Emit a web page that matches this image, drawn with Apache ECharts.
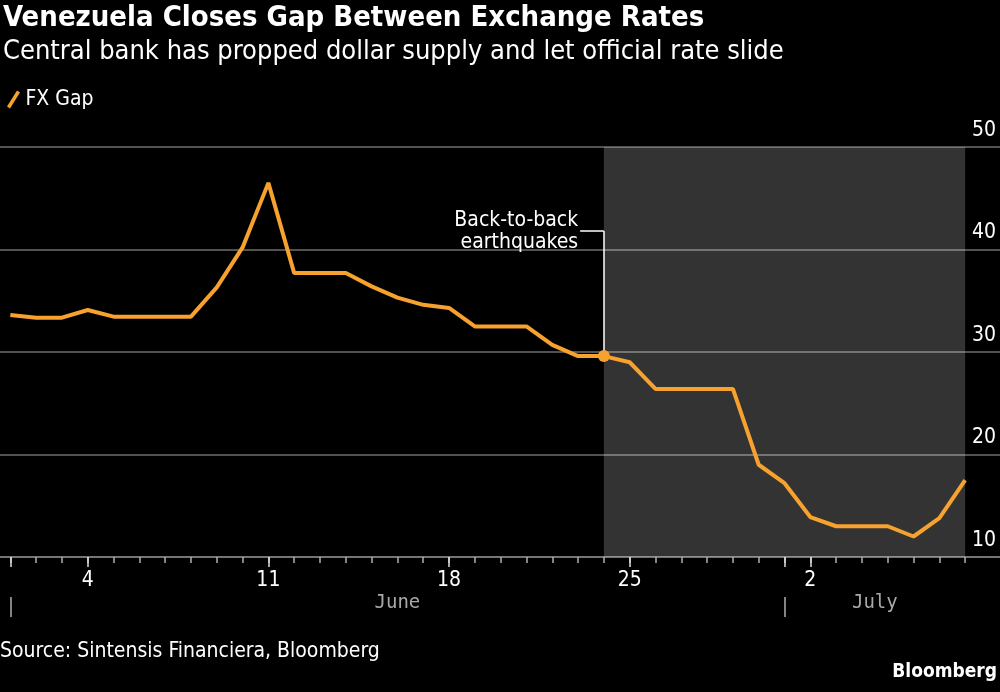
<!DOCTYPE html>
<html>
<head>
<meta charset="utf-8">
<script src="https://cdn.jsdelivr.net/npm/echarts@6/dist/echarts.min.js"></script>
<style>
  html, body { margin: 0; padding: 0; background: #000; }
  #chart { width: 1000px; height: 692px; }
</style>
</head>
<body>
<div id="chart"></div>
<script>
// daily dates shown on the x axis
const dates = [
  'Jun 1', 'Jun 2', 'Jun 3', 'Jun 4', 'Jun 5', 'Jun 6', 'Jun 7', 'Jun 8', 'Jun 9', 'Jun 10',
  'Jun 11', 'Jun 12', 'Jun 13', 'Jun 14', 'Jun 15', 'Jun 16', 'Jun 17', 'Jun 18', 'Jun 19', 'Jun 20',
  'Jun 21', 'Jun 22', 'Jun 23', 'Jun 24', 'Jun 25', 'Jun 26', 'Jun 27', 'Jun 28', 'Jun 29', 'Jun 30',
  'Jul 1', 'Jul 2', 'Jul 3', 'Jul 4', 'Jul 5', 'Jul 6', 'Jul 7', 'Jul 8'
]
// FX gap, %
const fxGap = [
  33.6, 33.35, 33.35, 34.1, 33.45, 33.45, 33.45, 33.45, 36.3, 40.2,
  46.5, 37.7, 37.7, 37.7, 36.4, 35.3, 34.6, 34.3, 32.5, 32.5,
  32.5, 30.7, 29.6, 29.6, 29.0, 26.4, 26.4, 26.4, 26.4, 19.0,
  17.2, 13.9, 13.0, 13.0, 13.0, 12.0, 13.8, 17.5
]
const labelDates = ['Jun 4', 'Jun 11', 'Jun 18', 'Jun 25', 'Jul 2']
const monthStarts = ['Jun 1', 'Jul 1']
const months = ['June', 'July']
const yTicks = [10, 20, 30, 40, 50]
const eventDate = 'Jun 24'
const eventText = 'Back-to-back\nearthquakes'

const ORANGE = '#f7a12e'
const FONT = '"DejaVu Sans Condensed", "Liberation Sans Narrow", sans-serif'

const labelIdx = labelDates.map(d => dates.indexOf(d))
const monthIdx = monthStarts.map(d => dates.indexOf(d))
const lastIdx = dates.length - 1
// month label sits in the middle of its visible span
const monthMid = monthIdx.map((s, i) => ((s + (i + 1 < monthIdx.length ? monthIdx[i + 1] : lastIdx)) / 2))
const eventIdx = dates.indexOf(eventDate)
const allIdx = dates.map((d, i) => i)

const xMin = -0.4
const xMax = 38.35

const chart = echarts.init(document.getElementById('chart'))

const option = {
  backgroundColor: '#000',
  textStyle: { fontFamily: FONT },
  animation: false,
  title: {
    text: 'Venezuela Closes Gap Between Exchange Rates',
    subtext: 'Central bank has propped dollar supply and let official rate slide',
    left: -2,
    top: -1,
    itemGap: 5,
    textStyle: { color: '#fff', fontSize: 29, fontWeight: 'bold', fontFamily: FONT },
    subtextStyle: { color: '#fff', fontSize: 27, fontFamily: FONT }
  },
  legend: {
    left: 2,
    top: 84,
    itemWidth: 14,
    itemHeight: 18,
    itemGap: 8,
    icon: 'path://M0,16 L10,0 L13,2 L3,18 Z',
    textStyle: { color: '#fff', fontSize: 21, fontFamily: FONT },
    data: ['FX Gap']
  },
  grid: { left: 0, right: 0, top: 147, bottom: 135, containLabel: false },
  xAxis: [
    {
      type: 'value',
      position: 'bottom',
      min: xMin,
      max: xMax,
      splitLine: { show: false },
      axisLine: { show: true, lineStyle: { color: '#808080', width: 1.5 } },
      axisTick: { show: true, customValues: allIdx, length: 6, lineStyle: { color: '#b0b0b0', width: 1.5 } },
      axisLabel: {
        customValues: labelIdx,
        formatter: v => dates[Math.round(v)].split(' ')[1],
        color: '#fff',
        fontSize: 21,
        margin: 13
      }
    },
    {
      type: 'value',
      position: 'bottom',
      min: xMin,
      max: xMax,
      splitLine: { show: false },
      axisLine: { show: false },
      axisTick: { show: true, customValues: labelIdx.concat(monthIdx), length: 10, lineStyle: { color: '#e0e0e0', width: 1.5 } },
      axisLabel: { show: false }
    },
    {
      type: 'value',
      position: 'bottom',
      min: xMin,
      max: xMax,
      offset: 40,
      splitLine: { show: false },
      axisLine: { show: false },
      axisTick: { show: true, customValues: monthIdx, length: 20, lineStyle: { color: '#b0b0b0', width: 1.5 } },
      axisLabel: {
        customValues: monthMid,
        formatter: v => months[monthMid.indexOf(v)],
        color: '#a8a8a8',
        fontSize: 19,
        fontFamily: '"DejaVu Sans Mono", monospace',
        margin: -3
      }
    }
  ],
  yAxis: {
    type: 'value',
    position: 'right',
    min: yTicks[0],
    max: yTicks[yTicks.length - 1],
    interval: 10,
    axisLine: { show: false },
    axisTick: { show: false },
    splitLine: { lineStyle: { color: '#6e6e6e', width: 1.5 } },
    axisLabel: {
      inside: true,
      margin: 4,
      color: '#fff',
      fontSize: 21,
      verticalAlign: 'bottom',
      padding: [0, 0, 6, 0]
    }
  },
  series: [
    {
      name: 'FX Gap',
      type: 'line',
      data: fxGap.map((v, i) => [i, v]),
      symbol: 'none',
      color: ORANGE,
      lineStyle: { color: ORANGE, width: 4 },
      markArea: {
        silent: true,
        itemStyle: { color: 'rgba(255,255,255,0.2)' },
        data: [[{ xAxis: eventIdx }, { xAxis: lastIdx }]]
      },
      markLine: {
        silent: true,
        symbol: 'none',
        lineStyle: { color: '#fff', width: 1.5, type: 'solid' },
        label: { show: false },
        data: [
          [{ coord: [eventIdx, fxGap[eventIdx]] }, { coord: [eventIdx, 41.8] }],
          [{ coord: [eventIdx, 41.8] }, { coord: [eventIdx - 0.92, 41.8] }]
        ]
      },
      markPoint: {
        silent: true,
        data: [
          {
            coord: [eventIdx, fxGap[eventIdx]],
            symbol: 'circle',
            symbolSize: 12,
            itemStyle: { color: ORANGE },
            label: { show: false }
          },
          {
            coord: [eventIdx - 0.92, 41.8],
            symbol: 'circle',
            symbolSize: 0,
            label: {
              show: true,
              formatter: eventText,
              position: 'left',
              distance: 2,
              align: 'right',
              color: '#fff',
              fontSize: 21,
              lineHeight: 22
            }
          }
        ]
      }
    }
  ],
  graphic: [
    {
      type: 'text',
      left: 0,
      top: 641,
      style: { text: 'Source: Sintensis Financiera, Bloomberg', fill: '#fff', fontSize: 21, fontFamily: FONT }
    },
    {
      type: 'text',
      right: 3,
      top: 663,
      style: { text: 'Bloomberg', fill: '#fff', fontSize: 19, fontWeight: 'bold', fontFamily: FONT }
    }
  ]
}

chart.setOption(option)
</script>
</body>
</html>
